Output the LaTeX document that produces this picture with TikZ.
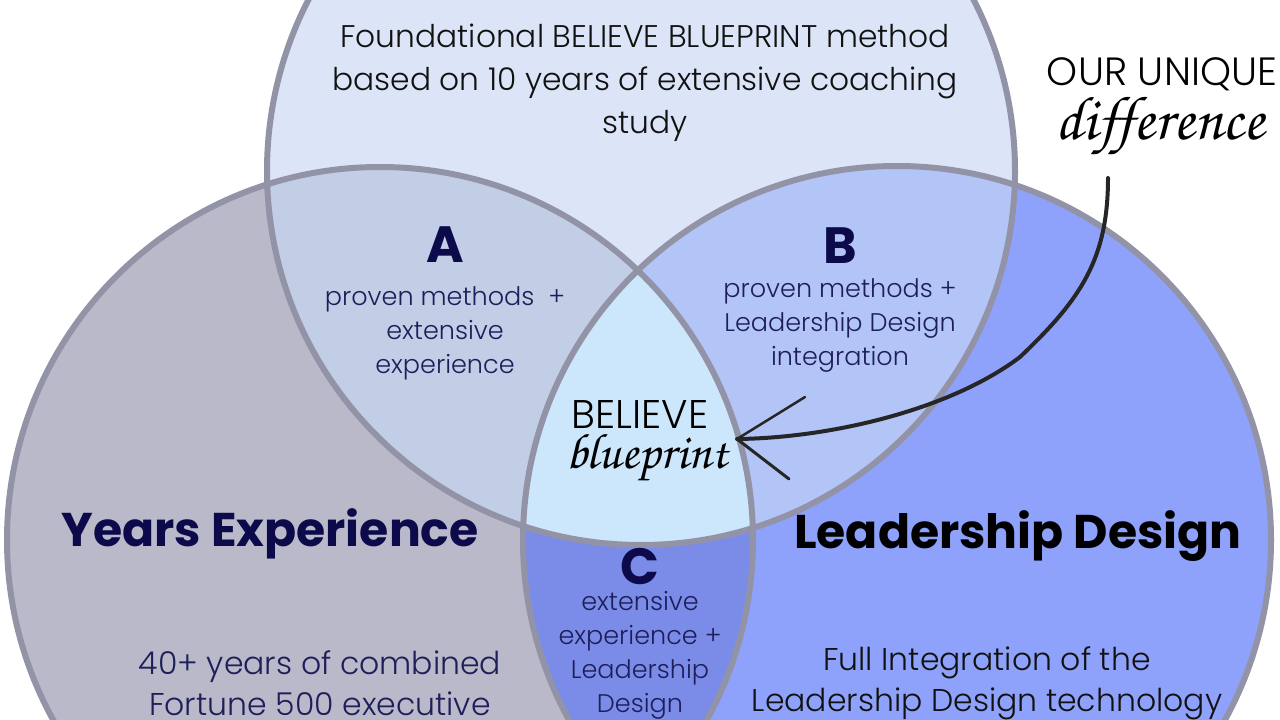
\documentclass[tikz,border=0pt]{standalone}
\usepackage[T1]{fontenc}
\usepackage{fontspec}
\setmainfont{Poppins}
\newfontfamily\poplight{Poppins}[UprightFont=* Light]
\newcommand\handfont{\fontencoding{T1}\fontfamily{pzc}\fontseries{mb}\fontshape{it}\selectfont}
\definecolor{ctop}{HTML}{DBE5F7}
\definecolor{cleft}{HTML}{B9B9C9}
\definecolor{cright}{HTML}{8EA2FB}
\definecolor{cA}{HTML}{C2CDE6}
\definecolor{cB}{HTML}{B3C5F7}
\definecolor{cC}{HTML}{7A8CE8}
\definecolor{cmid}{HTML}{CCE6FB}
\definecolor{edge}{HTML}{9393A7}
\definecolor{navy}{HTML}{0C0A4A}
\definecolor{navytext}{HTML}{1E1E5A}
\definecolor{ink}{HTML}{111111}
\tikzset{
  ring/.style={draw=edge, line width=6pt},
  letter/.style={font=\fontsize{51}{51}\selectfont\bfseries, text=navy, inner sep=0pt},
  body/.style={font=\poplight\fontsize{25.5}{34}\selectfont, text=navytext, align=center, inner sep=0pt},
  bigtitle/.style={font=\fontsize{47.3}{47.3}\selectfont\bfseries, inner sep=0pt},
  bottomtext/.style={font=\poplight\fontsize{31.5}{41}\selectfont, align=center, inner sep=0pt},
  hand/.style={font=\handfont\fontsize{62}{62}\selectfont, text=black, inner sep=0pt},
  pen/.style={draw=black!85, line width=4pt, line cap=round, line join=round}
}
\begin{document}
\begin{tikzpicture}[x=1pt, y=-1pt]
\useasboundingbox (0,0) rectangle (1280,720);
\begin{scope}
\clip (0,0) rectangle (1280,720);
% base fills
\fill[ctop] (641,171) circle (374);
\fill[cleft] (380,540) circle (373);
\fill[cright] (897,540) circle (374);
% A : top & left
\begin{scope}
\clip (641,171) circle (374);
\fill[cA] (380,540) circle (373);
\end{scope}
% B : top & right
\begin{scope}
\clip (641,171) circle (374);
\fill[cB] (897,540) circle (374);
\end{scope}
% C : left & right
\begin{scope}
\clip (380,540) circle (373);
\fill[cC] (897,540) circle (374);
\end{scope}
% centre : all three
\begin{scope}
\clip (641,171) circle (374);
\clip (380,540) circle (373);
\fill[cmid] (897,540) circle (374);
\end{scope}
% outlines
\draw[ring] (641,171) circle (374);
\draw[ring] (380,540) circle (373);
\draw[ring] (897,540) circle (374);
\end{scope}

% texts
\node[font=\poplight\fontsize{31.3}{43}\selectfont, text=ink, align=center, inner sep=0pt] (top) at (645,83)
  {Foundational BELIEVE BLUEPRINT method\\based on 10 years of extensive coaching\\study};

\node[letter] (A) at (445,245) {A};
\node[body] (Atext) at (445,333) {proven methods\ \ +\\extensive\\experience};

\node[letter] (B) at (840,246) {B};
\node[body] (Btext) at (840,325) {proven methods +\\Leadership Design\\integration};

\node[letter] (C) at (640,567) {C};
\node[body] (Ctext) at (640,655) {extensive\\experience +\\Leadership\\Design};

\node[bigtitle, text=navy] (years) at (270,534) {Years Experience};
\node[bigtitle, text=black] (lead) at (1018,536) {Leadership Design};

\node[bottomtext, text=navytext] (yearsbody) at (320,683) {40+ years of combined\\Fortune 500 executive};
\node[bottomtext, text=ink] (leadbody) at (987,683) {Full Integration of the\\Leadership Design technology};

\node[font=\poplight\fontsize{39.4}{39.4}\selectfont, text=black, inner sep=0pt] (unique) at (1162,74) {OUR UNIQUE};
\node[hand] (diff) at (1160,127) {difference};

\node[font=\poplight\fontsize{40}{40}\selectfont, text=black, inner sep=0pt] (believe) at (640,414) {BELIEVE};
\node[hand, font=\handfont\fontsize{50}{50}\selectfont] (blue) at (647,458) {blueprint};

% hand-drawn arrow
\coordinate (start) at (1108,178);
\coordinate (tip) at (737,439);
\draw[pen] (start) .. controls (1108,260) and (1080,300) .. (1020,357)
  .. controls (950,410) and (830,438) .. (tip);
\draw[pen, line width=2.5pt] (tip) -- ++(68,-42);
\draw[pen, line width=3pt] (tip) -- ++(52,40);
\end{tikzpicture}
\end{document}
